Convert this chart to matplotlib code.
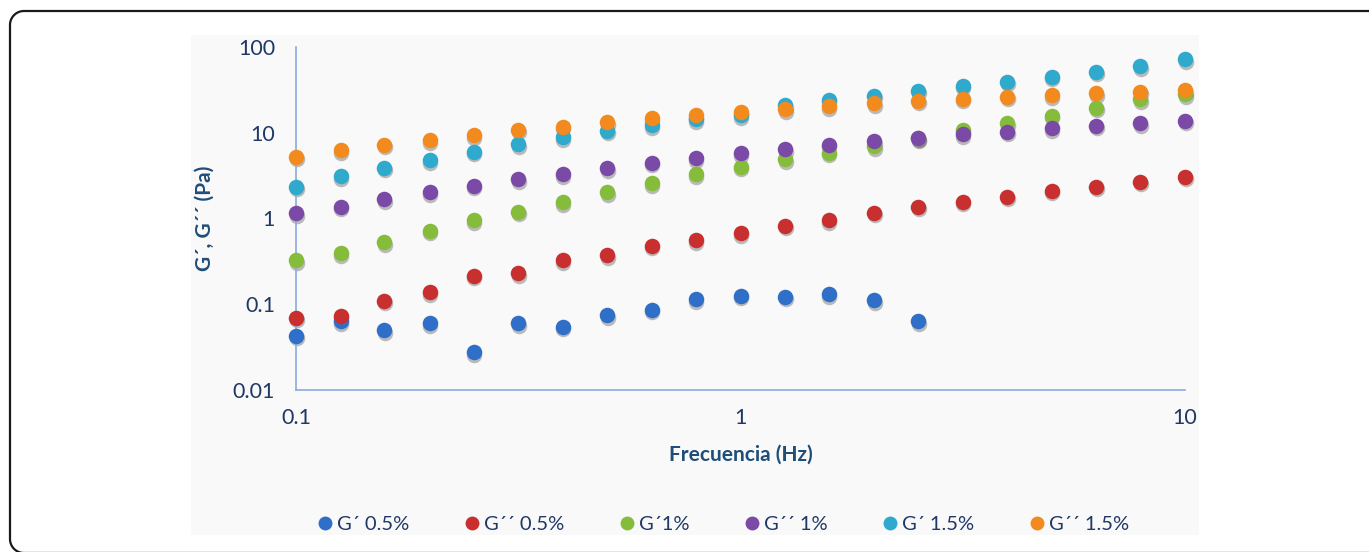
import matplotlib
matplotlib.use("Agg")
import numpy as np
import matplotlib.pyplot as plt
import matplotlib.transforms as mtransforms
from matplotlib.patches import Rectangle
from matplotlib.lines import Line2D
from matplotlib.ticker import FixedLocator, NullLocator, FixedFormatter

plt.rcParams['font.family'] = ['Lato', 'DejaVu Sans']

# Oscillation frequencies (Hz)
freq = [0.1, 0.126, 0.158, 0.2, 0.251, 0.316, 0.398, 0.501, 0.631, 0.794,
        1.0, 1.26, 1.58, 2.0, 2.51, 3.16, 3.98, 5.01, 6.31, 7.94, 10.0]

# Moduli (Pa) for each concentration
g1_05 = [0.043, 0.063, 0.050, 0.060, 0.0275, 0.060, 0.055, 0.074, 0.086, 0.115,
         0.126, 0.122, 0.131, 0.111, 0.063]
g2_05 = [0.070, 0.073, 0.110, 0.138, 0.216, 0.229, 0.328, 0.375, 0.478, 0.561,
         0.672, 0.818, 0.96, 1.17, 1.37, 1.57, 1.80, 2.11, 2.35, 2.69, 3.07]
g1_10 = [0.328, 0.393, 0.527, 0.721, 0.96, 1.20, 1.55, 2.02, 2.57, 3.28,
         4.02, 4.90, 5.86, 7.0, 8.6, 10.8, 12.9, 15.7, 19.6, 24.5, 28.0]
g2_10 = [1.15, 1.37, 1.67, 2.02, 2.41, 2.86, 3.30, 3.85, 4.48, 5.04,
         5.76, 6.41, 7.2, 8.0, 8.75, 9.6, 10.3, 11.3, 12.0, 12.9, 13.8]
g1_15 = [2.35, 3.13, 3.92, 4.81, 6.0, 7.33, 8.85, 10.6, 12.3, 14.4,
         16.1, 20.8, 24.1, 27.0, 30.9, 35.1, 39.4, 45.0, 51.5, 60.0, 71.9]
g2_15 = [5.26, 6.29, 7.2, 8.23, 9.4, 10.8, 11.8, 13.2, 14.7, 16.1,
         17.6, 18.9, 20.5, 22.0, 23.7, 24.8, 26.3, 27.5, 28.8, 30.1, 31.5]

labels = ["G\u00b4 0.5%", "G\u00b4\u00b4 0.5%", "G\u00b41%", "G\u00b4\u00b4 1%",
          "G\u00b4 1.5%", "G\u00b4\u00b4 1.5%"]
series = [g1_05, g2_05, g1_10, g2_10, g1_15, g2_15]
colors = ["#2f6fc7", "#c8302f", "#86bc3c", "#7a4aa6", "#2fa9cc", "#f28a1e"]

y_ticks = [0.01, 0.1, 1, 10, 100]
y_ticklabels = ["0.01", "0.1", "1", "10", "100"]
x_ticks = [0.1, 1, 10]
x_ticklabels = ["0.1", "1", "10"]

text_col = "#1f3864"
label_col = "#1f4e79"
spine_col = "#8eaadb"

W, H = 1369, 552
fig = plt.figure(figsize=(W / 100, H / 100), dpi=100)
fig.patch.set_facecolor("white")

# Rounded outer frame: top and left sides with rounded corners, open to the right
r = 14.0
left, top, bottom = 10.0, H - 11.0, -1.0
t = np.linspace(0, np.pi / 2, 30)
top_left = np.column_stack([left + r - r * np.sin(t), top - r + r * np.cos(t)])[::-1]
bot_left = np.column_stack([left + r - r * np.cos(t), bottom + r - r * np.sin(t)])
path = np.vstack([[[W + 20, top]], top_left[::-1], bot_left, [[W + 20, bottom]]])
frame = Line2D(path[:, 0], path[:, 1], color="#1a1a1a", linewidth=1.6,
               transform=mtransforms.IdentityTransform())
fig.add_artist(frame)

# Light chart panel
panel = Rectangle((191 / W, 1 - 535 / H), (1199 - 191) / W, (535 - 35) / H,
                  transform=fig.transFigure, facecolor="#f9f9f9",
                  edgecolor="none", zorder=0)
fig.add_artist(panel)

ax = fig.add_axes([296 / W, 1 - 390 / H, (1185 - 296) / W, (390 - 47) / H])
ax.set_facecolor("none")
ax.set_xscale("log")
ax.set_yscale("log")
ax.set_xlim(0.1, 10)
ax.set_ylim(0.01, 100)

for s in ["top", "right"]:
    ax.spines[s].set_visible(False)
for s in ["left", "bottom"]:
    ax.spines[s].set_color(spine_col)
    ax.spines[s].set_linewidth(1.2)

ax.xaxis.set_major_locator(FixedLocator(x_ticks))
ax.xaxis.set_major_formatter(FixedFormatter(x_ticklabels))
ax.yaxis.set_major_locator(FixedLocator(y_ticks))
ax.yaxis.set_major_formatter(FixedFormatter(y_ticklabels))
ax.xaxis.set_minor_locator(NullLocator())
ax.yaxis.set_minor_locator(NullLocator())
ax.tick_params(axis="both", length=0, labelsize=15.5, colors=text_col)
ax.tick_params(axis="y", pad=15)
ax.tick_params(axis="x", pad=13)

shadow = mtransforms.offset_copy(ax.transData, fig=fig, x=0.5, y=-2.5, units="dots")
for vals, col, lab in zip(series, colors, labels):
    xs = freq[:len(vals)]
    ax.scatter(xs, vals, s=125, color="black", alpha=0.25, linewidths=0,
               transform=shadow, clip_on=False, zorder=2)
    ax.scatter(xs, vals, s=125, color=col, linewidths=0, clip_on=False,
               zorder=3, label=lab)

ax.set_xlabel("Frecuencia (Hz)", fontsize=15, fontweight="bold", color=label_col)
ax.xaxis.set_label_coords(0.5, (390 - 455) / 343, transform=ax.transAxes)
ax.set_ylabel("G\u00b4, G\u00b4\u00b4 (Pa)", fontsize=15, fontweight="bold",
              color=label_col)
ax.yaxis.set_label_coords((205 - 296) / 889, 0.5, transform=ax.transAxes)
ax.xaxis.label.set_va("center")
ax.yaxis.label.set_va("center")

handles = [Line2D([0], [0], marker="o", linestyle="none", markersize=10,
                  markerfacecolor=c, markeredgewidth=0) for c in colors]
fig.legend(handles, labels, loc="center", ncol=6, frameon=False,
           bbox_to_anchor=(722 / W, 1 - 524 / H), fontsize=14.5,
           labelcolor=text_col, handletextpad=0.1, columnspacing=2.6,
           handlelength=1.0)

fig.savefig("out.png", dpi=100)
